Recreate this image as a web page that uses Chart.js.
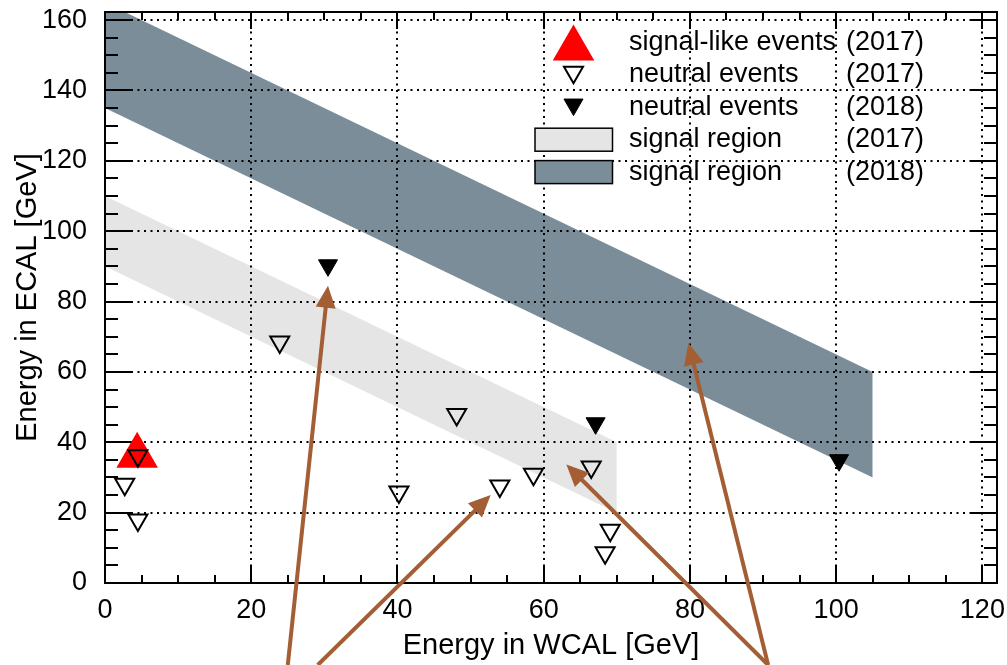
<!DOCTYPE html>
<html>
<head>
<meta charset="utf-8">
<title>ECAL vs WCAL</title>
<script src="https://cdn.jsdelivr.net/npm/chart.js@4/dist/chart.umd.min.js"></script>
<style>
  html, body { margin: 0; padding: 0; background: #fff; }
  #wrap { width: 1007px; height: 665px; }
</style>
</head>
<body>
<div id="wrap"><canvas id="chart" width="1007" height="665"></canvas></div>
<script>
// Event data in GeV
const signalWcal2017 = [4.4];
const signalEcal2017 = [36.2];

const neutralWcal2017 = [4.5, 2.7, 4.5, 23.9, 48.1, 40.2, 54.0, 58.6, 66.5, 69.1, 68.4];
const neutralEcal2017 = [36.2, 28.1, 17.9, 68.5, 47.9, 25.9, 27.6, 30.9, 33.0, 15.0, 8.6];

const neutralWcal2018 = [30.5, 67.1, 100.4];
const neutralEcal2018 = [90.3, 45.4, 34.9];

// Signal regions: lower / upper edge at the two WCAL end points
const regionWcal2017 = [0, 70];
const regionLow2017 = [90, 20];
const regionHigh2017 = [110, 40];

const regionWcal2018 = [0, 105];
const regionLow2018 = [135, 30];
const regionHigh2018 = [165, 60];

// Annotation arrows: [tailX, tailY, tipX, tipY] in GeV (tails sit below the axis)
const arrows = [
    [25.0, -23.3, 30.5, 84.5],
    [29.1, -23.3, 52.75, 25.0],
    [90.7, -23.3, 63.1, 33.7],
    [90.7, -23.3, 79.8, 68.2]
];

const xTicks = [0, 20, 40, 60, 80, 100, 120];
const yTicks = [0, 20, 40, 60, 80, 100, 120, 140, 160];

const FONT = '"Liberation Sans", Arial, Helvetica, sans-serif';
const ARROW_COLOR = '#a35e34';

function pts(xs, ys) {
    return xs.map((x, i) => ({ x: x, y: ys[i] }));
}

// minor ticks every 5 GeV between the labelled ones
function minors(majors, max) {
    const out = [];
    majors.forEach(v => {
        for (let k = 1; k < 4; k++) {
            if (v + k * 5 < max) out.push(v + k * 5);
        }
    });
    return out;
}

function drawMarker(ctx, style, x, y) {
    if (Chart.helpers && Chart.helpers.drawPoint) {
        Chart.helpers.drawPoint(ctx, style, x, y);
        return;
    }
    const r = style.radius;
    let rad = (style.rotation || 0) * Math.PI / 180;
    ctx.beginPath();
    for (let i = 0; i < 3; i++) {
        const px = x + Math.sin(rad) * r, py = y - Math.cos(rad) * r;
        if (i === 0) ctx.moveTo(px, py); else ctx.lineTo(px, py);
        rad += 2 * Math.PI / 3;
    }
    ctx.closePath();
    ctx.fill();
    if (style.borderWidth > 0) ctx.stroke();
}

function drawArrow(ctx, x0, y0, x1, y1) {
    const ang = Math.atan2(y1 - y0, x1 - x0);
    const headLen = 22, headHalf = 10;
    const bx = x1 - headLen * Math.cos(ang);
    const by = y1 - headLen * Math.sin(ang);
    ctx.beginPath();
    ctx.moveTo(x0, y0);
    ctx.lineTo(bx + 2 * Math.cos(ang), by + 2 * Math.sin(ang));
    ctx.stroke();
    ctx.beginPath();
    ctx.moveTo(x1, y1);
    ctx.lineTo(bx + headHalf * Math.sin(ang), by - headHalf * Math.cos(ang));
    ctx.lineTo(bx - headHalf * Math.sin(ang), by + headHalf * Math.cos(ang));
    ctx.closePath();
    ctx.fill();
}

// ROOT-like frame: dotted grid above the bands, inward ticks, legend, arrows
const rootFrame = {
    id: 'rootFrame',
    afterDatasetDraw(chart, args) {
        if (args.index !== 3) return;   // last band drawn -> grid goes on top of it
        const { ctx, chartArea: a, scales: { x, y } } = chart;
        ctx.save();
        ctx.strokeStyle = '#000';
        ctx.lineWidth = 2;
        ctx.setLineDash([2, 4.5]);
        ctx.beginPath();
        xTicks.forEach(v => {
            const px = Math.round(x.getPixelForValue(v));
            ctx.moveTo(px, a.top);
            ctx.lineTo(px, a.bottom);
        });
        yTicks.forEach(v => {
            const py = Math.round(y.getPixelForValue(v));
            ctx.moveTo(a.left, py);
            ctx.lineTo(a.right, py);
        });
        ctx.stroke();
        ctx.restore();
    },
    afterDatasetsDraw(chart) {
        const { ctx, chartArea: a, scales: { x, y } } = chart;
        ctx.save();
        ctx.strokeStyle = '#000';
        ctx.lineWidth = 2;
        ctx.beginPath();
        const xTick = (v, len) => {
            const px = Math.round(x.getPixelForValue(v));
            ctx.moveTo(px, a.bottom); ctx.lineTo(px, a.bottom - len);
            ctx.moveTo(px, a.top); ctx.lineTo(px, a.top + len);
        };
        const yTick = (v, len) => {
            const py = Math.round(y.getPixelForValue(v));
            ctx.moveTo(a.left, py); ctx.lineTo(a.left + len, py);
            ctx.moveTo(a.right, py); ctx.lineTo(a.right - len, py);
        };
        xTicks.forEach(v => xTick(v, 17));
        minors(xTicks, x.max).forEach(v => xTick(v, 8));
        yTicks.forEach(v => yTick(v, 26));
        minors(yTicks, y.max).forEach(v => yTick(v, 13));
        ctx.stroke();
        ctx.strokeRect(a.left, a.top, a.right - a.left, a.bottom - a.top);

        // legend
        const ds = chart.data.datasets;
        const rows = [2, 0, 1, 4, 6];
        const symX = 573.5, textX = 629, yearX = 846, row0 = 42.5, gap = 32.4;
        ctx.font = '27px ' + FONT;
        ctx.textBaseline = 'middle';
        ctx.textAlign = 'left';
        rows.forEach((idx, i) => {
            const d = ds[idx];
            const ry = row0 + i * gap;
            if (d.pointStyle) {
                const r = d.pointRadius;
                const rot = d.pointRotation || 0;
                ctx.fillStyle = d.pointBackgroundColor;
                ctx.strokeStyle = d.pointBorderColor;
                ctx.lineWidth = d.pointBorderWidth;
                const cy = rot ? ry - r / 4 : ry + r / 4;
                drawMarker(ctx, { pointStyle: d.pointStyle, radius: r, rotation: rot, borderWidth: d.pointBorderWidth }, symX, cy);
            } else {
                ctx.fillStyle = d.backgroundColor;
                ctx.fillRect(535, ry - 11.5, 77.5, 23);
                ctx.strokeStyle = '#000';
                ctx.lineWidth = 1.5;
                ctx.strokeRect(535, ry - 11.5, 77.5, 23);
            }
            ctx.fillStyle = '#000';
            ctx.fillText(d.label, textX, ry);
            ctx.fillText(d.period, yearX, ry);
        });
        ctx.restore();
    },
    afterDraw(chart) {
        const { ctx, scales: { x, y } } = chart;
        ctx.save();
        ctx.strokeStyle = ARROW_COLOR;
        ctx.fillStyle = ARROW_COLOR;
        ctx.lineWidth = 4;
        arrows.forEach(ar => {
            drawArrow(ctx,
                x.getPixelForValue(ar[0]), y.getPixelForValue(ar[1]),
                x.getPixelForValue(ar[2]), y.getPixelForValue(ar[3]));
        });
        ctx.restore();
    }
};

const bandLine = { type: 'line', showLine: true, borderWidth: 0, borderColor: 'rgba(0,0,0,0)', pointRadius: 0 };

const ctx = document.getElementById('chart').getContext('2d');
const chart = new Chart(ctx, {
    type: 'scatter',
    data: {
        datasets: [
            {
                label: 'neutral events', period: '(2017)',
                data: pts(neutralWcal2017, neutralEcal2017),
                pointStyle: 'triangle', pointRotation: 180, pointRadius: 11,
                pointBackgroundColor: 'rgba(0,0,0,0)', pointBorderColor: '#000', pointBorderWidth: 2
            },
            {
                label: 'neutral events', period: '(2018)',
                data: pts(neutralWcal2018, neutralEcal2018),
                pointStyle: 'triangle', pointRotation: 180, pointRadius: 11,
                pointBackgroundColor: '#000', pointBorderColor: '#000', pointBorderWidth: 1
            },
            {
                label: 'signal-like events', period: '(2017)',
                data: pts(signalWcal2017, signalEcal2017),
                pointStyle: 'triangle', pointRotation: 0, pointRadius: 24,
                pointBackgroundColor: '#ff0000', pointBorderColor: '#ff0000', pointBorderWidth: 0
            },
            Object.assign({ label: 'signal region low', data: pts(regionWcal2017, regionLow2017), fill: false }, bandLine),
            Object.assign({ label: 'signal region', period: '(2017)', data: pts(regionWcal2017, regionHigh2017),
                fill: '-1', backgroundColor: '#e5e5e5' }, bandLine),
            Object.assign({ label: 'signal region low', data: pts(regionWcal2018, regionLow2018), fill: false }, bandLine),
            Object.assign({ label: 'signal region', period: '(2018)', data: pts(regionWcal2018, regionHigh2018),
                fill: '-1', backgroundColor: '#7a8d98' }, bandLine)
        ]
    },
    options: {
        responsive: false,
        animation: false,
        devicePixelRatio: 1,
        layout: { autoPadding: false, padding: { left: 0, top: 12, right: 10, bottom: 0 } },
        plugins: {
            legend: { display: false },
            tooltip: { enabled: false }
        },
        scales: {
            x: {
                type: 'linear', position: 'bottom', min: 0, max: 122,
                afterBuildTicks: s => { s.ticks = xTicks.map(v => ({ value: v })); },
                afterFit: s => { s.height = 82; s.paddingLeft = 0; s.paddingRight = 0; },
                grid: { display: false },
                border: { display: false },
                ticks: { color: '#000', font: { family: FONT, size: 27 }, padding: 3, maxRotation: 0, autoSkip: false },
                title: { display: true, text: 'Energy in WCAL [GeV]', color: '#000',
                    font: { family: FONT, size: 29 }, padding: { top: 0, bottom: 2 } }
            },
            y: {
                type: 'linear', position: 'left', min: 0, max: 162.3,
                afterBuildTicks: s => { s.ticks = yTicks.map(v => ({ value: v })); },
                afterFit: s => { s.width = 105; s.paddingTop = 0; s.paddingBottom = 0; },
                grid: { display: false },
                border: { display: false },
                ticks: { color: '#000', font: { family: FONT, size: 27 }, padding: 10, autoSkip: false },
                title: { display: true, text: 'Energy in ECAL [GeV]', color: '#000',
                    font: { family: FONT, size: 29 }, padding: { top: 11, bottom: 0 } }
            }
        }
    },
    plugins: [rootFrame]
});
</script>
</body>
</html>
